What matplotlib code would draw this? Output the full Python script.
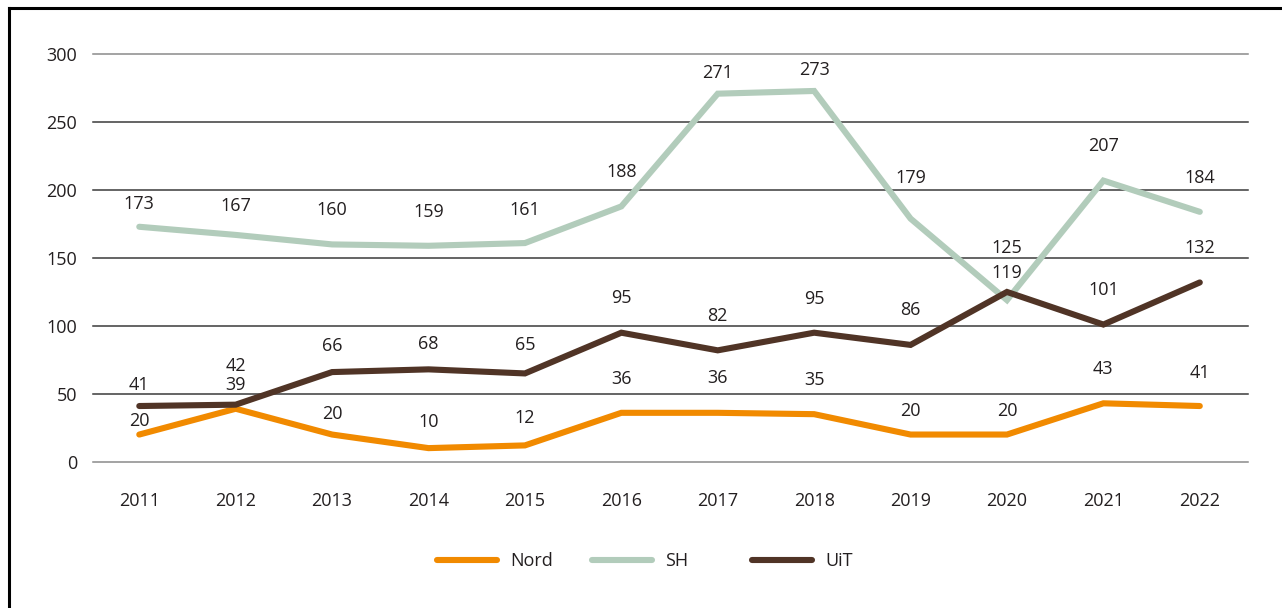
import matplotlib
matplotlib.use('Agg')
import matplotlib.pyplot as plt
from matplotlib.lines import Line2D

plt.rcParams['font.family'] = ['Open Sans', 'DejaVu Sans']

# Data
years = ['2011', '2012', '2013', '2014', '2015', '2016',
         '2017', '2018', '2019', '2020', '2021', '2022']
nord = [20, 39, 20, 10, 12, 36, 36, 35, 20, 20, 43, 41]
sh = [173, 167, 160, 159, 161, 188, 271, 273, 179, 119, 207, 184]
uit = [41, 42, 66, 68, 65, 95, 82, 95, 86, 125, 101, 132]

# Label heights above each point (pixels), as placed in the original
nord_dy = [15, 25, 22, 28, 29, 35, 36, 36, 25, 25, 36, 35]
sh_dy = [24, 30, 36, 35, 35, 36, 22, 22, 42, 29, 36, 35]
uit_dy = [23, 40, 28, 27, 30, 36, 36, 35, 36, 45, 36, 36]

yticks = [0, 50, 100, 150, 200, 250, 300]

text_col = '#231f20'
colors = {'Nord': '#f18a00', 'SH': '#b2ccbb', 'UiT': '#503426'}
fs = 13

fig = plt.figure(figsize=(12.82, 6.08), dpi=100)
W, H = 1282, 608
ax = fig.add_axes([93 / W, 1 - 461.7 / H, (1248 - 93) / W, (461.7 - 54.3) / H])

x = list(range(len(years)))

# gridlines
for t in yticks:
    c = '#8a8a8a' if t in (0, 300) else '#3a3a3a'
    ax.axhline(t, color=c, linewidth=1.1, zorder=1, clip_on=False)

series = [('Nord', nord, nord_dy), ('SH', sh, sh_dy), ('UiT', uit, uit_dy)]
for name, vals, dys in series:
    ax.plot(x, vals, color=colors[name], linewidth=4.4, label=name,
            solid_capstyle='round', solid_joinstyle='miter', zorder=3)

for name, vals, dys in series:
    for i, v in enumerate(vals):
        ax.annotate(str(v), (i, v), xytext=(0, (dys[i] - 6.5) * 0.72),
                    textcoords='offset points', ha='center', va='baseline',
                    fontsize=fs, color=text_col, zorder=4)

ax.set_xlim(-0.48, 11.5)
ax.set_ylim(0, 300)
ax.set_yticks(yticks)
ax.set_xticks(x)
ax.set_xticklabels(years)
ax.tick_params(axis='both', length=0, labelsize=fs, colors=text_col)
ax.tick_params(axis='y', pad=11.5)
ax.tick_params(axis='x', pad=22)
for s in ax.spines.values():
    s.set_visible(False)

# legend: one entry per slot, like the original
legend_x = {'Nord': 437, 'SH': 592, 'UiT': 752}
for name in ['Nord', 'SH', 'UiT']:
    h = Line2D([], [], color=colors[name], linewidth=4.4, solid_capstyle='round')
    fig.legend([h], [name], loc='center left',
               bbox_to_anchor=(legend_x[name] / W, 1 - 561 / H),
               frameon=False, fontsize=fs, handlelength=3.3, handletextpad=0.75,
               borderpad=0, borderaxespad=0, labelcolor=text_col)

# outer frame (only left and top edges visible in the original crop)
fig.add_artist(Line2D([9 / W, 9 / W], [0, 1 - 8 / H], color='black', linewidth=2.2,
                      transform=fig.transFigure))
fig.add_artist(Line2D([9 / W, 1], [1 - 8 / H, 1 - 8 / H], color='black', linewidth=2.2,
                      transform=fig.transFigure))

fig.savefig('out.png', dpi=100)
